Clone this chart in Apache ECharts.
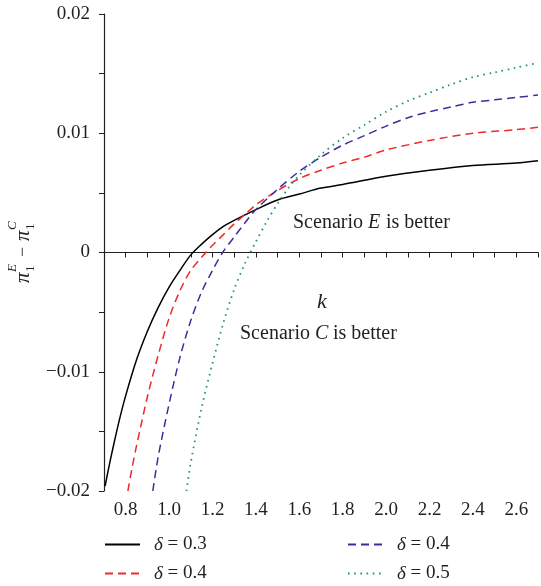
<!DOCTYPE html>
<html>
<head>
<meta charset="utf-8">
<script src="https://cdn.jsdelivr.net/npm/echarts@6/dist/echarts.min.js"></script>
<style>
  html, body { margin: 0; padding: 0; background: #fff; }
  #chart { width: 541px; height: 586px; }
</style>
</head>
<body>
<div id="chart"></div>
<script>
// k values and pi1E - pi1C for each delta
var kBlack = [0.705, 0.72, 0.74, 0.77, 0.8, 0.85, 0.9, 0.95, 1.0, 1.05, 1.1, 1.15, 1.2, 1.25, 1.3, 1.4, 1.5, 1.6, 1.7, 1.8, 2.0, 2.2, 2.4, 2.6, 2.7]
var vBlack = [-0.0196, -0.0182, -0.0165, -0.0141, -0.0120, -0.0090, -0.0066, -0.0046, -0.0029, -0.0015, -0.0002, 0.0007, 0.0015, 0.0022, 0.0027, 0.0036, 0.0044, 0.0049, 0.0054, 0.0057, 0.0064, 0.0069, 0.0073, 0.0075, 0.0077]

var kRed = [0.81, 0.83, 0.85, 0.9, 0.95, 1.0, 1.05, 1.1, 1.15, 1.2, 1.25, 1.3, 1.35, 1.4, 1.5, 1.6, 1.7, 1.8, 1.9, 2.0, 2.2, 2.4, 2.6, 2.7]
var vRed = [-0.0200, -0.0180, -0.0162, -0.0121, -0.0086, -0.0055, -0.0032, -0.0015, -0.0004, 0.0006, 0.0015, 0.0024, 0.0032, 0.0040, 0.0052, 0.0062, 0.0069, 0.0075, 0.0080, 0.0086, 0.0094, 0.0100, 0.0103, 0.0105]

var kBlue = [0.925, 0.95, 1.0, 1.05, 1.1, 1.15, 1.2, 1.25, 1.3, 1.35, 1.4, 1.5, 1.6, 1.7, 1.8, 1.9, 2.0, 2.1, 2.2, 2.3, 2.4, 2.5, 2.6, 2.7]
var vBlue = [-0.0200, -0.0171, -0.0127, -0.0088, -0.0057, -0.0033, -0.0015, 0.0001, 0.0013, 0.0025, 0.0036, 0.0053, 0.0068, 0.0080, 0.0090, 0.0098, 0.0106, 0.0113, 0.0118, 0.0122, 0.0126, 0.0128, 0.0130, 0.0132]

var kGreen = [1.08, 1.1, 1.15, 1.2, 1.25, 1.3, 1.35, 1.4, 1.45, 1.5, 1.55, 1.6, 1.7, 1.8, 1.9, 2.0, 2.1, 2.2, 2.3, 2.4, 2.5, 2.6, 2.7]
var vGreen = [-0.0200, -0.0176, -0.0130, -0.0093, -0.0059, -0.0031, -0.0009, 0.0009, 0.0026, 0.0041, 0.0054, 0.0065, 0.0082, 0.0096, 0.0107, 0.0118, 0.0127, 0.0134, 0.0141, 0.0147, 0.0151, 0.0155, 0.0159]

var legendLabels = {
	d03: '0.3',
	d04a: '0.4',
	d04b: '0.4',
	d05: '0.5'
}

var serif = 'serif'
var textColor = '#231f20'

function pairs(ks, vs) {
	var out = []
	for (var i = 0; i < ks.length; i++) {
		out.push([ks[i], vs[i]])
	}
	return out
}

function makeSeries(name, ks, vs, color, type, width) {
	return {
		name: name,
		type: 'line',
		data: pairs(ks, vs),
		symbol: 'none',
		smooth: 0.3,
		clip: true,
		itemStyle: { color: color },
		lineStyle: { color: color, type: type, width: width }
	}
}

// one legend per item, laid out in two columns like the figure
function oneLegend(name, left, top) {
	return {
		left: left,
		top: top,
		itemWidth: 35,
		itemHeight: 14,
		itemStyle: { opacity: 0 },
		data: [name],
		formatter: function (n) {
			return '{i|δ}{n| = ' + legendLabels[n] + '}'
		},
		textStyle: {
			fontFamily: serif,
			fontSize: 19,
			color: textColor,
			rich: {
				i: { fontFamily: serif, fontStyle: 'italic', fontSize: 19, color: textColor, padding: [0, 0, 0, 9] },
				n: { fontFamily: serif, fontSize: 19, color: textColor }
			}
		}
	}
}

function scenarioText(letter, x, y) {
	return {
		type: 'group',
		x: x,
		y: y,
		children: [
			{ type: 'text', x: 0, y: 0, style: { text: 'Scenario', font: '20px ' + serif, fill: textColor, verticalAlign: 'middle' } },
			{ type: 'text', x: 75, y: 0, style: { text: letter, font: 'italic 20px ' + serif, fill: textColor, verticalAlign: 'middle' } },
			{ type: 'text', x: 93, y: 0, style: { text: 'is better', font: '20px ' + serif, fill: textColor, verticalAlign: 'middle' } }
		]
	}
}

var dom = echarts.init(document.getElementById('chart'))

var option = {
	backgroundColor: '#fff',
	animation: false,
	textStyle: { fontFamily: serif },
	grid: {
		left: 104,
		right: 0,
		top: 14,
		bottom: 95
	},
	legend: [
		oneLegend('d03', 99, 530),
		oneLegend('d04a', 99, 559),
		oneLegend('d04b', 342, 530),
		oneLegend('d05', 342, 559)
	],
	xAxis: {
		type: 'value',
		min: 0.7,
		max: 2.7,
		interval: 0.1,
		axisLine: {
			onZero: true,
			lineStyle: { color: '#231f20', width: 1.2 }
		},
		axisTick: {
			length: 5,
			lineStyle: { color: '#231f20' }
		},
		axisLabel: {
			margin: 10,
			fontFamily: serif,
			fontSize: 19,
			color: textColor,
			showMinLabel: false,
			formatter: function (v) {
				var t = Math.round(v * 10)
				if (t % 2 !== 0 || t <= 7 || t >= 27) return ''
				return (t / 10).toFixed(1)
			}
		},
		splitLine: { show: false }
	},
	yAxis: {
		type: 'value',
		min: -0.02,
		max: 0.02,
		interval: 0.005,
		axisLine: {
			show: true,
			onZero: false,
			lineStyle: { color: '#231f20', width: 1.2 }
		},
		axisTick: {
			show: true,
			length: 5,
			lineStyle: { color: '#231f20' }
		},
		axisLabel: {
			margin: 14,
			fontFamily: serif,
			fontSize: 19,
			color: textColor,
			formatter: function (v) {
				var t = Math.round(v * 1000)
				if (t % 10 !== 0) return ''
				if (t === 0) return '0'
				var s = (Math.abs(t) / 1000).toFixed(2)
				return t < 0 ? '\u2212' + s : s
			}
		},
		splitLine: { show: false }
	},
	graphic: [
		scenarioText('E', 293, 223),
		scenarioText('C', 240, 334),
		{
			type: 'text',
			x: 322,
			y: 302,
			style: {
				text: 'k',
				font: 'italic 22px ' + serif,
				fill: textColor,
				align: 'center',
				verticalAlign: 'middle'
			}
		}, {
			type: 'group',
			x: 23,
			y: 252,
			rotation: Math.PI / 2,
			children: [
				{ type: 'text', x: -31, y: 0, style: { text: 'π', font: 'italic 21px ' + serif, fill: textColor, verticalAlign: 'middle' } },
				{ type: 'text', x: -20, y: -10, style: { text: 'E', font: 'italic 13px ' + serif, fill: textColor, verticalAlign: 'middle' } },
				{ type: 'text', x: -20, y: 8, style: { text: '1', font: '13px ' + serif, fill: textColor, verticalAlign: 'middle' } },
				{ type: 'text', x: 0, y: 0, style: { text: '\u2212', font: '18px ' + serif, fill: textColor, align: 'center', verticalAlign: 'middle' } },
				{ type: 'text', x: 11, y: 0, style: { text: 'π', font: 'italic 21px ' + serif, fill: textColor, verticalAlign: 'middle' } },
				{ type: 'text', x: 22, y: -10, style: { text: 'C', font: 'italic 13px ' + serif, fill: textColor, verticalAlign: 'middle' } },
				{ type: 'text', x: 22, y: 8, style: { text: '1', font: '13px ' + serif, fill: textColor, verticalAlign: 'middle' } }
			]
		}
	],
	series: [
		makeSeries('d03', kBlack, vBlack, '#000000', 'solid', 1.5),
		makeSeries('d04a', kRed, vRed, '#ee2a2a', [8, 5], 1.5),
		makeSeries('d04b', kBlue, vBlue, '#3b2e9c', [8, 5], 1.5),
		makeSeries('d05', kGreen, vGreen, '#23907e', [1.6, 4.6], 1.8)
	]
}

dom.setOption(option)
window.addEventListener('resize', function () {
	dom.resize()
})
</script>
</body>
</html>
